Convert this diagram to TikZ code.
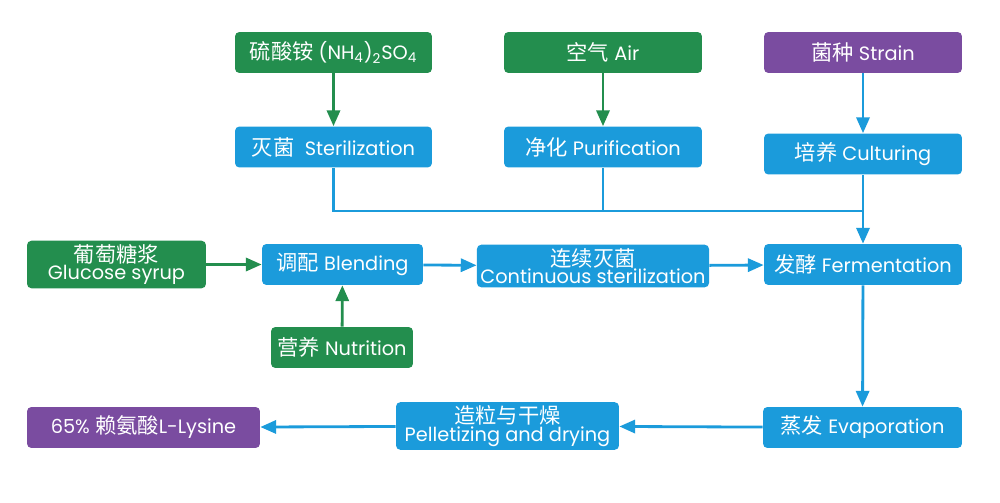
\documentclass[tikz,border=0pt]{standalone}
\usepackage{fontspec}
\setmainfont{Poppins}
\newfontfamily\zh[Scale=1.1]{Noto Sans CJK SC}
\usetikzlibrary{arrows.meta,positioning}
\definecolor{rawgreen}{RGB}{35,142,78}
\definecolor{procblue}{RGB}{27,155,219}
\definecolor{prodpurple}{RGB}{122,76,160}
\tikzset{
  box/.style={rounded corners=2.5pt, text=white, align=center, minimum height=0.82cm, inner sep=2pt, font=\fontsize{11}{10}\selectfont},
  raw/.style={box, fill=rawgreen},
  proc/.style={box, fill=procblue},
  prod/.style={box, fill=prodpurple},
  flow/.style={line width=1.6pt},
  garrow/.style={flow, draw=rawgreen, -{Triangle[length=9pt,width=7.5pt]}},
  barrow/.style={flow, draw=procblue, -{Triangle[length=9pt,width=7.5pt]}},
  bline/.style={flow, draw=procblue}
}
\begin{document}
\begin{tikzpicture}[x=0.02cm, y=-0.02cm]
    \useasboundingbox (0,0) rectangle (1000,503);
    % Inputs on top row
    \node[raw, minimum width=3.94cm] (amm) at (333.5,52.5) {{\zh 硫酸铵} (NH\textsubscript{4})\textsubscript{2}SO\textsubscript{4}};
    \node[raw, minimum width=3.96cm] (air) at (603,52.5) {{\zh 空气} Air};
    \node[prod, minimum width=3.96cm] (strain) at (863,52.5) {{\zh 菌种} Strain};
    % Pre-treatment
    \node[proc, minimum width=3.94cm] (steri) at (333.5,147) {{\zh 灭菌}\ \ Sterilization};
    \node[proc, minimum width=3.96cm] (puri) at (603,147) {{\zh 净化} Purification};
    \node[proc, minimum width=3.96cm] (cult) at (863,154) {{\zh 培养} Culturing};
    % Middle row
    \node[raw, minimum width=3.58cm] (gluc) at (116.5,264.5) {{\zh 葡萄糖浆}\\Glucose syrup};
    \node[proc, minimum width=3.22cm] (blend) at (342.5,264.5) {{\zh 调配} Blending};
    \node[proc, minimum width=4.64cm] (cont) at (593,266) {{\zh 连续灭菌}\\Continuous sterilization};
    \node[proc, minimum width=3.96cm] (ferm) at (863,264.5) {{\zh 发酵} Fermentation};
    \node[raw, minimum width=2.84cm] (nutr) at (342,347.5) {{\zh 营养} Nutrition};
    % Bottom row
    \node[proc, minimum width=3.98cm] (evap) at (862.5,427.5) {{\zh 蒸发} Evaporation};
    \node[proc, minimum width=4.46cm] (pell) at (507.5,426) {{\zh 造粒与干燥}\\Pelletizing and drying};
    \node[prod, minimum width=4.66cm] (lys) at (143.5,427.5) {65\% {\zh 赖氨酸}L-Lysine};
    % Green feeds
    \draw[garrow] (amm) -- (steri);
    \draw[garrow] (air) -- (puri);
    \draw[garrow] (gluc) -- (blend);
    \draw[garrow] (nutr) -- (blend);
    % Merge into fermentation
    \coordinate (join) at (863,211);
    \draw[bline] (steri.south) |- (join);
    \draw[bline] (puri.south) -- (puri.south |- join);
    \draw[bline] (cult.south) -- (join);
    \draw[barrow] (join) -- (ferm.north);
    % Main flow
    \draw[barrow] (strain) -- (cult);
    \draw[barrow] (blend) -- (cont);
    \draw[barrow] (cont) -- (ferm);
    \draw[barrow] (ferm) -- (evap);
    \draw[barrow] (evap) -- (pell);
    \draw[barrow] (pell) -- (lys);
  \end{tikzpicture}
\end{document}
